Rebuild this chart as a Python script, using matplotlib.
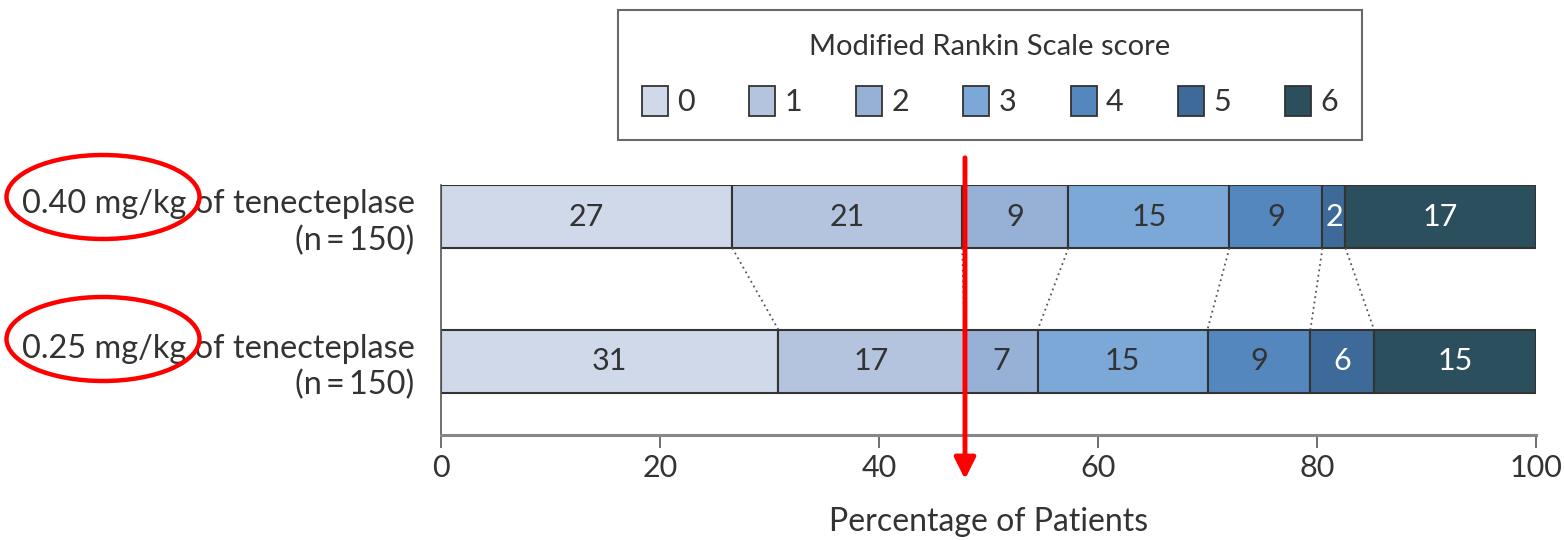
import numpy as np
import matplotlib
matplotlib.use("Agg")
import matplotlib.pyplot as plt
from matplotlib.patches import Patch, Ellipse, FancyArrowPatch

plt.rcParams['font.family'] = ['Lato', 'DejaVu Sans']

groups = ['0.40 mg/kg of tenecteplase\n(n\u2009=\u2009150)',
          '0.25 mg/kg of tenecteplase\n(n\u2009=\u2009150)']
scores = ['0', '1', '2', '3', '4', '5', '6']
# segment widths (percent)
high_dose = [26.6, 21.0, 9.7, 14.7, 8.5, 2.1, 17.4]
low_dose = [30.8, 17.0, 6.7, 15.5, 9.4, 5.8, 14.8]
# printed labels
high_labels = [27, 21, 9, 15, 9, 2, 17]
low_labels = [31, 17, 7, 15, 9, 6, 15]

colors = ['#cfd9ea', '#b4c3de', '#97b0d6', '#7ba8d6', '#5587bf', '#3e6a99', '#2b4f5c']
text_colors = ['#333333'] * 5 + ['white', 'white']

fig = plt.figure(figsize=(15.64, 5.40), dpi=100)
W, H = 1564, 540
ax = fig.add_axes([441 / W, 1 - 435 / H, (1536 - 441) / W, (435 - 185) / H])

bar_h = 0.436
rows = [high_dose, low_dose]
labels = [high_labels, low_labels]
for i, (vals, labs) in enumerate(zip(rows, labels)):
    left = np.concatenate([[0], np.cumsum(vals)[:-1]])
    ax.barh(i, vals, left=left, height=bar_h, color=colors,
            edgecolor='#333333', linewidth=1.5)
    for l, v, t, c in zip(left, vals, labs, text_colors):
        ax.text(l + v / 2, i, str(t), ha='center', va='center',
                fontsize=22, color=c)

# dotted connectors between matching boundaries
cum_hi = np.cumsum(high_dose)[:-1]
cum_lo = np.cumsum(low_dose)[:-1]
for a, b in zip(cum_hi, cum_lo):
    ax.plot([a, b], [bar_h / 2, 1 - bar_h / 2], linestyle=(0, (1, 2)),
            color='#555555', linewidth=1.3)

ax.set_xlim(0, 100)
ax.set_ylim(1 + bar_h / 2 + 0.294, -bar_h / 2)
ax.set_yticks([0, 1])
ax.set_yticklabels(groups, fontsize=23.4, color='#333333', ha='right',
                   multialignment='right', linespacing=1.25)
ax.tick_params(axis='y', length=0, pad=19)
ax.set_xticks([0, 20, 40, 60, 80, 100])
ax.tick_params(axis='x', length=9, width=1.2, color='#555555',
               labelsize=22, labelcolor='#333333', pad=5)
ax.spines['top'].set_visible(False)
ax.spines['right'].set_visible(False)
ax.spines['bottom'].set_color('#888888')
ax.spines['bottom'].set_linewidth(2.2)
ax.spines['left'].set_color('#555555')
ax.spines['left'].set_linewidth(1.2)
ax.set_xlabel('Percentage of Patients', fontsize=23, color='#333333', labelpad=18)

handles = [Patch(facecolor=c, edgecolor='#333333', linewidth=1.3) for c in colors]
leg = fig.legend(handles, scores, ncol=7, loc='center',
                 bbox_to_anchor=(990 / W, 1 - 75 / H),
                 title='Modified Rankin Scale score', title_fontsize=21,
                 fontsize=22, frameon=True, fancybox=False,
                 edgecolor='#444444', handlelength=0.85, handleheight=1.18,
                 handletextpad=0.3, columnspacing=1.78, borderpad=0.78,
                 labelspacing=0.85, borderaxespad=0)
leg.get_frame().set_linewidth(1.5)
for t in leg.get_texts():
    t.set_color('#333333')
leg.get_title().set_color('#333333')

# red annotations
for cy in (197, 339):
    fig.add_artist(Ellipse((103 / W, 1 - cy / H), 193 / W, 84 / H,
                           transform=fig.transFigure, fill=False,
                           edgecolor='red', linewidth=3.2))
fig.add_artist(FancyArrowPatch(
    (965 / W, 1 - 155 / H), (965 / W, 1 - 482 / H),
    transform=fig.transFigure, arrowstyle='-|>', mutation_scale=32,
    color='red', linewidth=3.5))

fig.savefig('out.png', dpi=100)
